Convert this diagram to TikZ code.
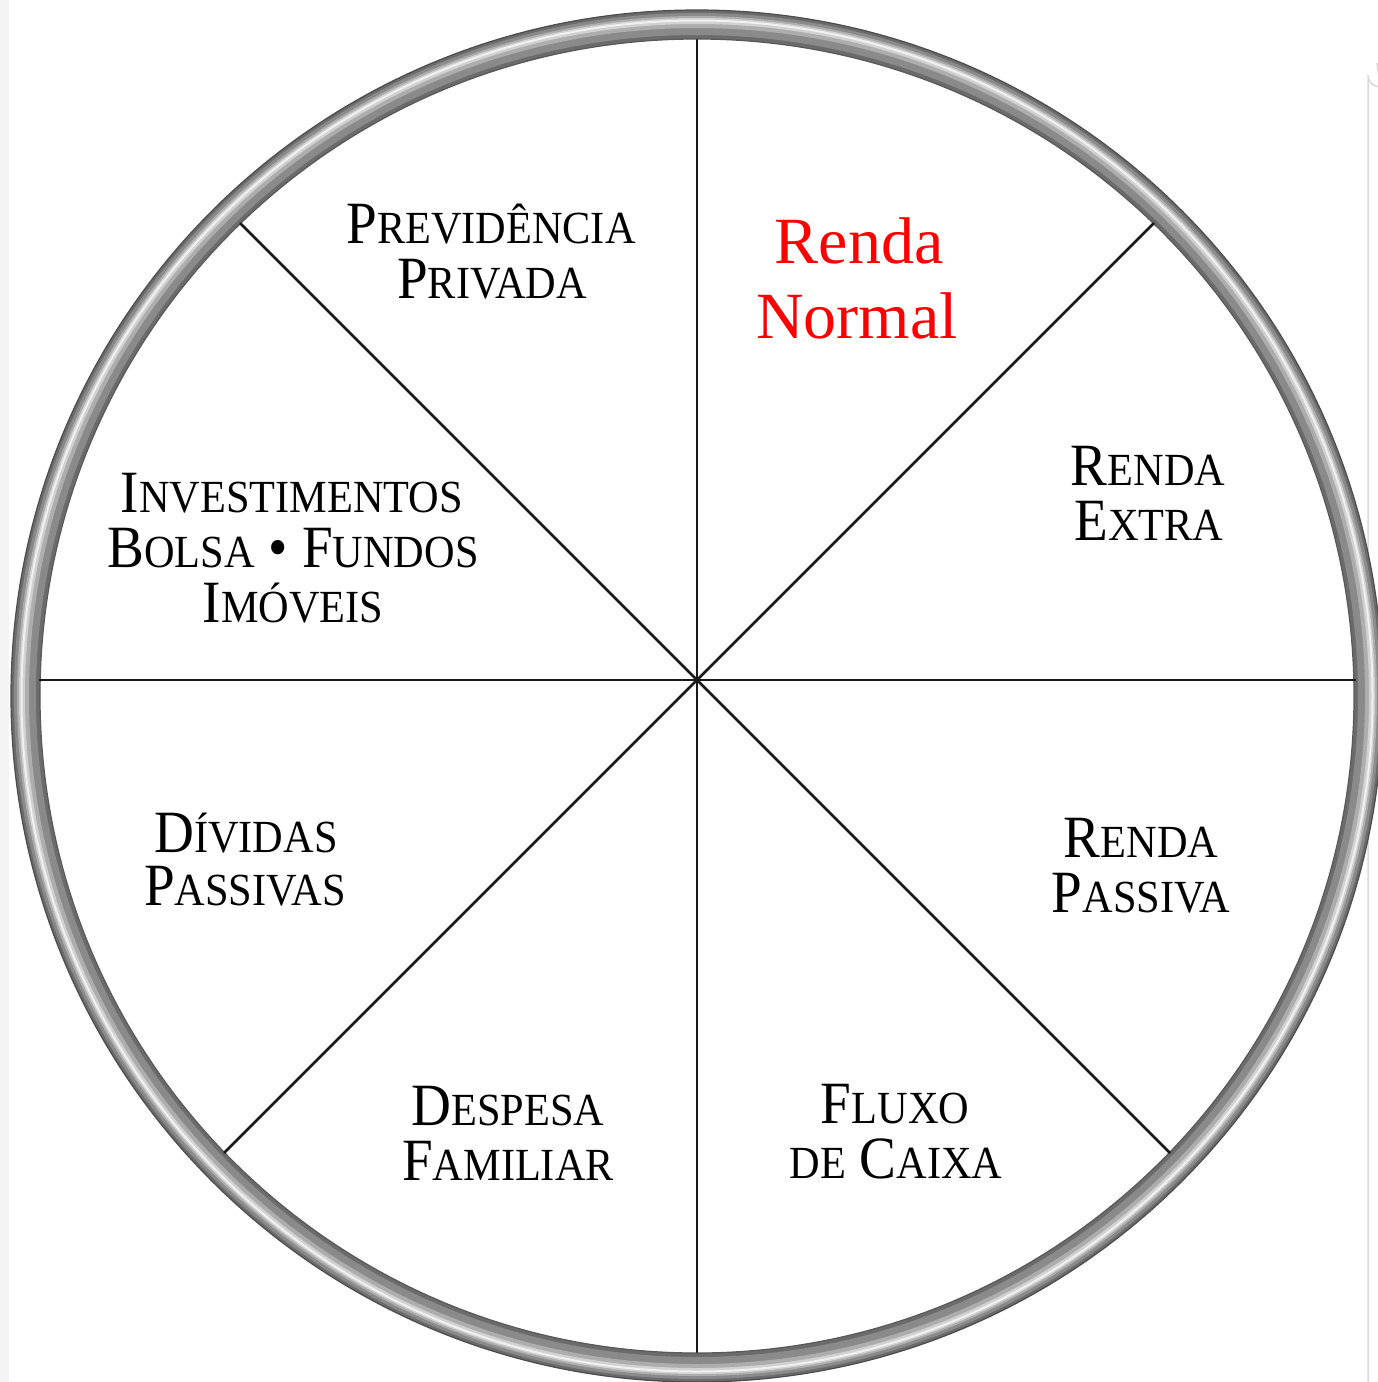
\documentclass[tikz,border=0pt]{standalone}
\usepackage{fontspec}
\setmainfont{Liberation Serif}
\newfontfamily\scfont[FakeStretch=0.92]{Liberation Serif}
\newcommand{\BigC}[1]{{\fontsize{60}{60}\selectfont #1}}
\newcommand{\SmC}[1]{{\fontsize{46}{46}\selectfont #1}}
\newcommand{\Gap}{\hspace{14pt}}
\begin{document}
\begin{tikzpicture}[x=1pt,y=-1pt,
  lbl/.style={anchor=base, inner sep=0pt, font=\scfont},
  red lbl/.style={anchor=base, inner sep=0pt, text=red, font=\fontsize{66}{66}\selectfont},
  spoke/.style={line width=2.8pt, black!90, line cap=round}]
\useasboundingbox (0,0) rectangle (1377,1382);
\fill[white] (0,0) rectangle (1377,1382);
% faint left strip and right frame line
\fill[gray!9] (0,0) rectangle (9,1382);
\draw[gray!30, line width=1.5pt] (1368,1382) -- (1368,75) arc[start angle=180, end angle=90, radius=12] -- (1377,63);
% ring (tube)
\coordinate (rc) at (697,696);
\draw[black!58, line width=29pt] (rc) circle[radius=671.5];
\draw[black!46, line width=22pt] (rc) circle[radius=672];
\draw[black!32, line width=12pt] (rc) circle[radius=674];
\draw[black!18, line width=6pt] (rc) circle[radius=675];
\draw[black!6, line width=2pt] (rc) circle[radius=675.5];
\draw[black!70, line width=1.2pt] (rc) circle[radius=686];
\draw[black!65, line width=1.2pt] (rc) circle[radius=657];
% spokes
\coordinate (c) at (697,680);
\coordinate (eN) at (697,40);
\coordinate (eS) at (697,1352);
\coordinate (eW) at (40,680);
\coordinate (eE) at (1355,680);
\coordinate (eNW) at (240.5,223.5);
\coordinate (eNE) at (1153.5,223.5);
\coordinate (eSW) at (224.5,1152.5);
\coordinate (eSE) at (1169.5,1152.5);
\foreach \e in {eN,eS,eW,eE,eNW,eNE,eSW,eSE}
  \draw[spoke] (c) -- (\e);
% labels
\node[lbl] (prev1) at (491,243) {\BigC{P}\SmC{REVIDÊNCIA}};
\node[lbl] (prev2) at (492,298) {\BigC{P}\SmC{RIVADA}};
\node[red lbl] (rn1) at (859,263) {Renda};
\node[red lbl] (rn2) at (857,338) {Normal};
\node[lbl] (re1) at (1148,485) {\BigC{R}\SmC{ENDA}};
\node[lbl] (re2) at (1149,540) {\BigC{E}\SmC{XTRA}};
\node[lbl] (inv1) at (292,512) {\BigC{I}\SmC{NVESTIMENTOS}};
\node[lbl] (inv2) at (293,567) {\BigC{B}\SmC{OLSA}\Gap\BigC{•}\Gap\BigC{F}\SmC{UNDOS}};
\node[lbl] (inv3) at (293,622) {\BigC{I}\SmC{MÓVEIS}};
\node[lbl] (div1) at (246,852) {\BigC{D}\SmC{ÍVIDAS}};
\node[lbl] (div2) at (245,905) {\BigC{P}\SmC{ASSIVAS}};
\node[lbl] (rp1) at (1141,857) {\BigC{R}\SmC{ENDA}};
\node[lbl] (rp2) at (1141,912) {\BigC{P}\SmC{ASSIVA}};
\node[lbl] (dsp1) at (508,1125) {\BigC{D}\SmC{ESPESA}};
\node[lbl] (dsp2) at (508,1180) {\BigC{F}\SmC{AMILIAR}};
\node[lbl] (flx1) at (895,1123) {\BigC{F}\SmC{LUXO}};
\node[lbl] (flx2) at (896,1178) {\SmC{DE}\Gap\BigC{C}\SmC{AIXA}};
\end{tikzpicture}
\end{document}
